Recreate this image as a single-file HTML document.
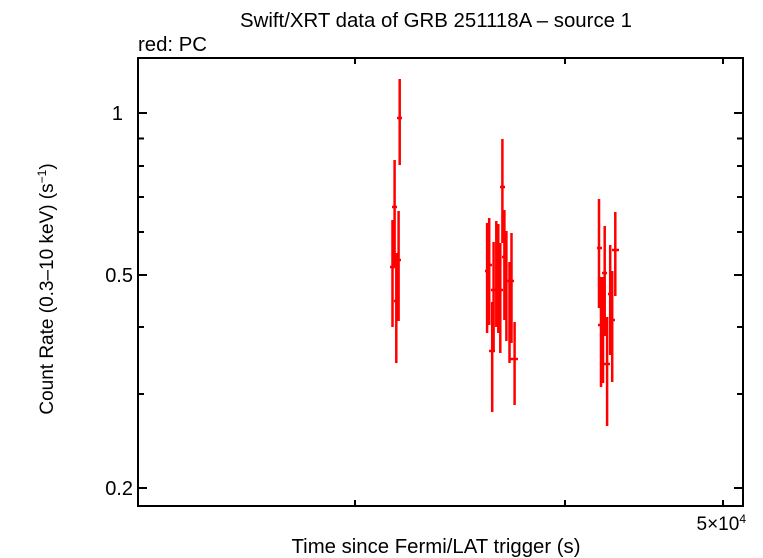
<!DOCTYPE html>
<html><head><meta charset="utf-8"><style>
html,body{margin:0;padding:0;background:#fff;}
svg{display:block;font-family:"Liberation Sans",sans-serif;}
</style></head><body>
<svg width="763" height="558" viewBox="0 0 763 558" xmlns="http://www.w3.org/2000/svg">
<rect width="763" height="558" fill="#fff"/>
<text x="436" y="27" font-size="20" text-anchor="middle" textLength="392" lengthAdjust="spacingAndGlyphs">Swift/XRT data of GRB 251118A – source 1</text>
<text x="138" y="51" font-size="20" textLength="69" lengthAdjust="spacingAndGlyphs">red: PC</text>
<g stroke="#000" stroke-width="2" fill="none">
<rect x="138" y="58" width="605" height="448"/>
<path d="M138 113h9M138 138.5h6M138 166h6M138 197h6M138 232h6M138 275h9M138 327h6M138 394h6M138 488h9
M743 113h-9M743 138.5h-6M743 166h-6M743 197h-6M743 232h-6M743 275h-9M743 327h-6M743 394h-6M743 488h-9
M355 506v-6M565 506v-6M723 506v-6M355 58v6M565 58v6M723 58v6"/>
</g>
<g font-size="20" text-anchor="end">
<text x="123" y="120">1</text>
<text x="133" y="282">0.5</text>
<text x="133" y="495">0.2</text>
</g>
<text x="746" y="530" font-size="19" text-anchor="end">5×10<tspan font-size="12" dy="-7">4</tspan></text>
<text x="436" y="553" font-size="20" text-anchor="middle" textLength="289" lengthAdjust="spacingAndGlyphs">Time since Fermi/LAT trigger (s)</text>
<text transform="translate(53,289) rotate(-90)" font-size="19" text-anchor="middle">Count Rate (0.3–10 keV) (s<tspan font-size="12" dy="-7">−1</tspan><tspan dy="7">)</tspan></text>
<g stroke="#f00" stroke-width="2.5">
<path d="
M399.7 79V165M397 118h5
M394.6 160V267M392 207h5
M392.5 220V327M390 267h5
M396.3 253V363M394 301h5
M398.6 211V321M396 260h5
M487.1 223V333M485 271h5
M489.2 218V325M487 265h5
M492.2 302V412M489 351h6
M493.6 242V351M491 290h5
M496.3 221V327M494 290h5
M498.3 224V333M496 260h5
M500.3 243V353M498 290h5
M502.4 139V243M500 187h5
M504.4 210V320M502 257h5
M506.4 231V341M504 281h5
M509.5 262V363M507 281h5
M511.5 233V343M509 281h5
M514.6 322V405M510 359h8
M599 199V308M597 248h5
M601 277V387M598 325h5
M603 277V383M601 325h5
M604.7 226V336M602 273h5
M607.1 317V426M604 364h6
M610.2 245V355M608 294h5
M612.2 271V382M610 320h5
M615.3 212V296M612 250h7"/>
</g>
</svg>
</body></html>
